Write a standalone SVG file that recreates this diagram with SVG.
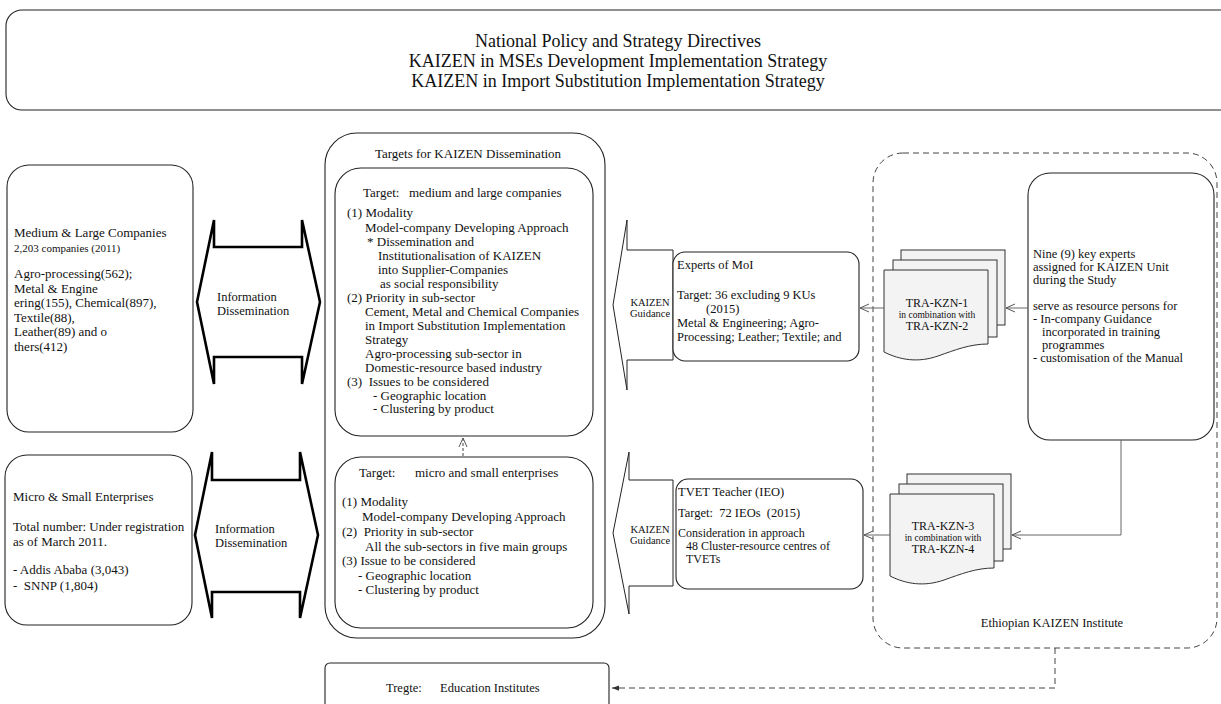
<svg xmlns="http://www.w3.org/2000/svg" width="1221" height="704" viewBox="0 0 1221 704">
<style>
text{font-family:"Liberation Serif","Times New Roman",serif;fill:#111}
.title{font-size:18px;text-anchor:middle}
.t13{font-size:13px}
.t12{font-size:12.5px}
.t115{font-size:12px}
.t11{font-size:11px}
.t10{font-size:10.5px}
.t9{font-size:9.5px}
.mid{text-anchor:middle}
.box{fill:#fff;stroke:#222;stroke-width:1.1}
.bold{fill:#fff;stroke:#000;stroke-width:2.6;stroke-linejoin:miter}
.thin{fill:#fff;stroke:#222;stroke-width:1}
.page{fill:#f3f3f3;stroke:#333;stroke-width:1}
.conn{fill:none;stroke:#666;stroke-width:1}
.dash{fill:none;stroke:#444;stroke-width:1;stroke-dasharray:6 4}
.sdash{fill:none;stroke:#444;stroke-width:1;stroke-dasharray:3 2}
</style>
<defs>
<marker id="open" viewBox="0 0 10 10" refX="10" refY="5" markerWidth="10" markerHeight="10" markerUnits="userSpaceOnUse" orient="auto"><path d="M1,1 L10,5 L1,9" fill="none" stroke="#555" stroke-width="1"/></marker>
<marker id="solid" viewBox="0 0 8 8" refX="8" refY="4" markerWidth="7" markerHeight="7" markerUnits="userSpaceOnUse" orient="auto"><path d="M0,1 L8,4 L0,7 Z" fill="#333"/></marker>
</defs>

<g id="policy">
<rect class="box" x="6" y="10" width="1240" height="100" rx="16"/>
<text class="title" x="618" y="47">National Policy and Strategy Directives</text>
<text class="title" x="618" y="67">KAIZEN in MSEs Development Implementation Strategy</text>
<text class="title" x="618" y="87">KAIZEN in Import Substitution Implementation Strategy</text>
</g>

<g id="eki">
<rect class="dash" x="873" y="153" width="344" height="495" rx="30"/>
<text class="t12 mid" x="1052" y="627">Ethiopian KAIZEN Institute</text>
</g>

<g id="medium-large">
<rect class="box" x="7" y="165" width="186" height="267" rx="22"/>
<text class="t13" x="14" y="237">Medium &amp; Large Companies</text>
<text class="t11" x="14" y="252">2,203 companies (2011)</text>
<text class="t13" x="14" y="278">Agro-processing(562);</text>
<text class="t13" x="14" y="293">Metal &amp; Engine</text>
<text class="t13" x="14" y="307">ering(155), Chemical(897),</text>
<text class="t13" x="14" y="322">Textile(88),</text>
<text class="t13" x="14" y="336">Leather(89) and o</text>
<text class="t13" x="14" y="351">thers(412)</text>
</g>

<g id="mse">
<rect class="box" x="5" y="455" width="187" height="170" rx="22"/>
<text class="t13" x="13" y="501">Micro &amp; Small Enterprises</text>
<text class="t13" x="13" y="531">Total number: Under registration</text>
<text class="t13" x="13" y="546">as of March 2011.</text>
<text class="t13" x="13" y="574">- Addis Ababa (3,043)</text>
<text class="t13" x="13" y="590" xml:space="preserve">-  SNNP (1,804)</text>
</g>

<g id="info-top">
<path class="bold" d="M197,302 L214,220 L214,247 L302,247 L302,220 L320,302 L302,384 L302,357 L214,357 L214,384 Z"/>
<text class="t12" x="217" y="301">Information</text>
<text class="t12" x="217" y="315">Dissemination</text>
</g>

<g id="info-bottom">
<path class="bold" d="M195,535 L212,452 L212,480 L300,480 L300,452 L318,535 L300,618 L300,592 L212,592 L212,618 Z"/>
<text class="t12" x="215" y="533">Information</text>
<text class="t12" x="215" y="547">Dissemination</text>
</g>

<g id="targets">
<rect class="box" x="325" y="133" width="280" height="505" rx="32"/>
<text class="t13 mid" x="468" y="158">Targets for KAIZEN Dissemination</text>
</g>

<g id="target-ml">
<rect class="box" x="335" y="168" width="258" height="268" rx="26"/>
<text class="t13" x="363" y="197">Target:</text>
<text class="t13" x="409" y="197">medium and large companies</text>
<text class="t13" x="347" y="217">(1) Modality</text>
<text class="t13" x="365" y="232">Model-company Developing Approach</text>
<text class="t13" x="367" y="246">* Dissemination and</text>
<text class="t13" x="378" y="260">Institutionalisation of KAIZEN</text>
<text class="t13" x="378" y="274">into Supplier-Companies</text>
<text class="t13" x="380" y="288">as social responsibility</text>
<text class="t13" x="347" y="302">(2) Priority in sub-sector</text>
<text class="t13" x="365" y="316">Cement, Metal and Chemical Companies</text>
<text class="t13" x="365" y="330">in Import Substitution Implementation</text>
<text class="t13" x="365" y="344">Strategy</text>
<text class="t13" x="365" y="358">Agro-processing sub-sector in</text>
<text class="t13" x="365" y="372">Domestic-resource based industry</text>
<text class="t13" x="347" y="386" xml:space="preserve">(3)  Issues to be considered</text>
<text class="t13" x="373" y="400">- Geographic location</text>
<text class="t13" x="373" y="413">- Clustering by product</text>
</g>

<g id="target-mse">
<rect class="box" x="335" y="457" width="258" height="171" rx="26"/>
<text class="t13" x="359" y="477">Target:</text>
<text class="t13" x="415" y="477">micro and small enterprises</text>
<text class="t13" x="342" y="506">(1) Modality</text>
<text class="t13" x="362" y="521">Model-company Developing Approach</text>
<text class="t13" x="342" y="536" xml:space="preserve">(2)  Priority in sub-sector</text>
<text class="t13" x="365" y="551">All the sub-sectors in five main groups</text>
<text class="t13" x="342" y="565">(3) Issue to be considered</text>
<text class="t13" x="358" y="580">- Geographic location</text>
<text class="t13" x="358" y="594">- Clustering by product</text>
</g>

<g id="guidance-top">
<path class="thin" d="M613,305 L627,220 L627,250 L673,250 L673,360 L627,360 L627,390 Z"/>
<text class="t10 mid" x="650" y="306">KAIZEN</text>
<text class="t10 mid" x="650" y="317">Guidance</text>
</g>

<g id="guidance-bottom">
<path class="thin" d="M613,533 L629,452 L629,480 L673,480 L673,586 L629,586 L629,614 Z"/>
<text class="t10 mid" x="650" y="533">KAIZEN</text>
<text class="t10 mid" x="650" y="544">Guidance</text>
</g>

<g id="experts-moi">
<rect class="box" x="673" y="252" width="186" height="109" rx="12"/>
<text class="t12" x="677" y="269">Experts of MoI</text>
<text class="t12" x="677" y="299">Target: 36 excluding 9 KUs</text>
<text class="t12" x="706" y="313">(2015)</text>
<text class="t12" x="677" y="327">Metal &amp; Engineering; Agro-</text>
<text class="t12" x="677" y="341">Processing; Leather; Textile; and</text>
</g>

<g id="tvet">
<rect class="box" x="676" y="479" width="187" height="110" rx="12"/>
<text class="t12" x="678" y="496">TVET Teacher (IEO)</text>
<text class="t12" x="678" y="517" xml:space="preserve">Target:  72 IEOs  (2015)</text>
<text class="t115" x="678" y="537">Consideration in approach</text>
<text class="t115" x="686" y="550">48 Cluster-resource centres of</text>
<text class="t115" x="686" y="563">TVETs</text>
</g>

<g id="tra-kzn-1">
<rect class="page" x="901" y="250" width="104" height="75"/>
<rect class="page" x="893" y="260" width="104" height="77"/>
<path class="page" d="M884,270 H988 V344 C970,344 955,350 938,356 C918,363 900,360 884,352 Z"/>
<text class="t115 mid" x="937" y="307">TRA-KZN-1</text>
<text class="t9 mid" x="937" y="318">in combination with</text>
<text class="t115 mid" x="937" y="330">TRA-KZN-2</text>
</g>

<g id="tra-kzn-3">
<rect class="page" x="907" y="474" width="104" height="75"/>
<rect class="page" x="899" y="484" width="104" height="77"/>
<path class="page" d="M890,494 H994 V568 C976,568 961,574 944,580 C924,587 906,584 890,576 Z"/>
<text class="t115 mid" x="943" y="530">TRA-KZN-3</text>
<text class="t9 mid" x="943" y="541">in combination with</text>
<text class="t115 mid" x="943" y="553">TRA-KZN-4</text>
</g>

<g id="key-experts">
<rect class="box" x="1028" y="173" width="186" height="267" rx="22"/>
<text class="t12" x="1033" y="258">Nine (9) key experts</text>
<text class="t12" x="1033" y="271">assigned for KAIZEN Unit</text>
<text class="t12" x="1033" y="284">during the Study</text>
<text class="t12" x="1033" y="310">serve as resource persons for</text>
<text class="t12" x="1033" y="323">- In-company Guidance</text>
<text class="t12" x="1042" y="336">incorporated in training</text>
<text class="t12" x="1042" y="349">programmes</text>
<text class="t12" x="1033" y="362">- customisation of the Manual</text>
</g>

<g id="education">
<rect class="box" x="325" y="663" width="284" height="60" rx="5"/>
<text class="t12" x="386" y="692">Tregte:</text>
<text class="t12" x="440" y="692">Education Institutes</text>
</g>

<g id="connectors">
<line class="conn" x1="1028" y1="308" x2="1006" y2="308" marker-end="url(#open)"/>
<line class="conn" x1="884" y1="308" x2="860" y2="308" marker-end="url(#open)"/>
<path class="conn" d="M1121,440 V535 H1012" marker-end="url(#open)"/>
<line class="conn" x1="890" y1="535" x2="864" y2="535" marker-end="url(#open)"/>
<line class="sdash" x1="463" y1="456" x2="463" y2="438" marker-end="url(#open)"/>
<path class="dash" d="M1055,648 V688 H612" marker-end="url(#solid)"/>
</g>
</svg>
